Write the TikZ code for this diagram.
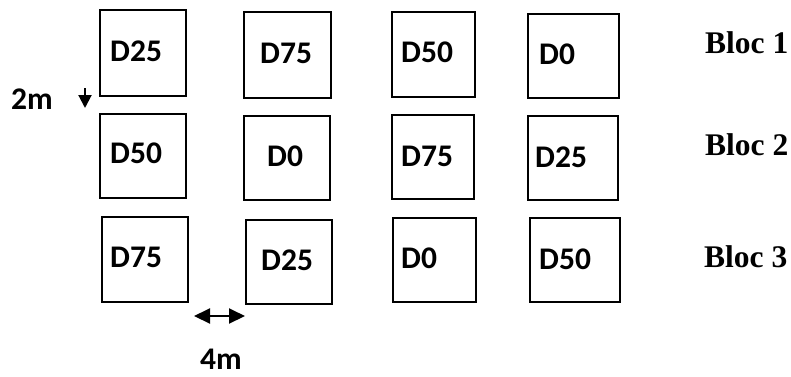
\documentclass[tikz,border=0pt]{standalone}
\usepackage{fontspec}
\setmainfont{Liberation Serif}
\setsansfont{Carlito}
\usetikzlibrary{arrows.meta}
\begin{document}
\begin{tikzpicture}[x=1pt,y=-1pt,
  plot/.style={draw=black, line width=1.8pt, inner sep=0pt, outer sep=0pt, anchor=north west},
  dlbl/.style={font=\sffamily\bfseries\fontsize{31.5}{36}\selectfont, inner sep=0pt, text depth=0pt, anchor=base west},
  bloc/.style={font=\rmfamily\bfseries\fontsize{31.5}{36}\selectfont, inner sep=0pt, text depth=0pt, anchor=base west},
  dim/.style={line width=2pt}
]
\useasboundingbox[fill=white] (0,0) rectangle (791,376);
% Row 1
\node[plot, minimum width=86pt, minimum height=86pt] (b11) at (100,10) {};
\node[plot, minimum width=87pt, minimum height=86pt] (b12) at (244,12) {};
\node[plot, minimum width=83pt, minimum height=85pt] (b13) at (392,12) {};
\node[plot, minimum width=91pt, minimum height=84pt] (b14) at (528,14) {};
% Row 2
\node[plot, minimum width=86pt, minimum height=84pt] (b21) at (100,114) {};
\node[plot, minimum width=86pt, minimum height=84pt] (b22) at (244,116) {};
\node[plot, minimum width=82pt, minimum height=84pt] (b23) at (392,115) {};
\node[plot, minimum width=90pt, minimum height=84pt] (b24) at (528,116) {};
% Row 3
\node[plot, minimum width=86pt, minimum height=85pt] (b31) at (102,217) {};
\node[plot, minimum width=86pt, minimum height=84pt] (b32) at (246,220) {};
\node[plot, minimum width=83pt, minimum height=84pt] (b33) at (393,218) {};
\node[plot, minimum width=90pt, minimum height=84pt] (b34) at (530,218) {};
% Labels
\node[dlbl] (t11) at (110,61) {D25};
\node[dlbl] (t12) at (260,63) {D75};
\node[dlbl] (t13) at (401,62) {D50};
\node[dlbl] (t14) at (539,64) {D0};
\node[dlbl] (t21) at (110,163) {D50};
\node[dlbl] (t22) at (267,166) {D0};
\node[dlbl] (t23) at (401,166) {D75};
\node[dlbl] (t24) at (535,167) {D25};
\node[dlbl] (t31) at (110,267) {D75};
\node[dlbl] (t32) at (261,270) {D25};
\node[dlbl] (t33) at (401,268) {D0};
\node[dlbl] (t34) at (539,269) {D50};
% Blocs
\node[bloc] (bl1) at (705,53) {Bloc 1};
\node[bloc] (bl2) at (705,155) {Bloc 2};
\node[bloc] (bl3) at (704,267) {Bloc 3};
% Dimensions
\node[dlbl] (m2) at (11,109) {2m};
\node[dlbl] (m4) at (200,369) {4m};
\coordinate (v1) at (85,88);
\coordinate (v2) at (85,108);
\draw[dim, -{Triangle[length=13pt,width=13pt]}] (v1) -- (v2);
\coordinate (h1) at (194,316);
\coordinate (h2) at (245,316);
\draw[dim, {Triangle[length=16pt,width=15pt]}-{Triangle[length=16pt,width=15pt]}] (h1) -- (h2);
\end{tikzpicture}
\end{document}
